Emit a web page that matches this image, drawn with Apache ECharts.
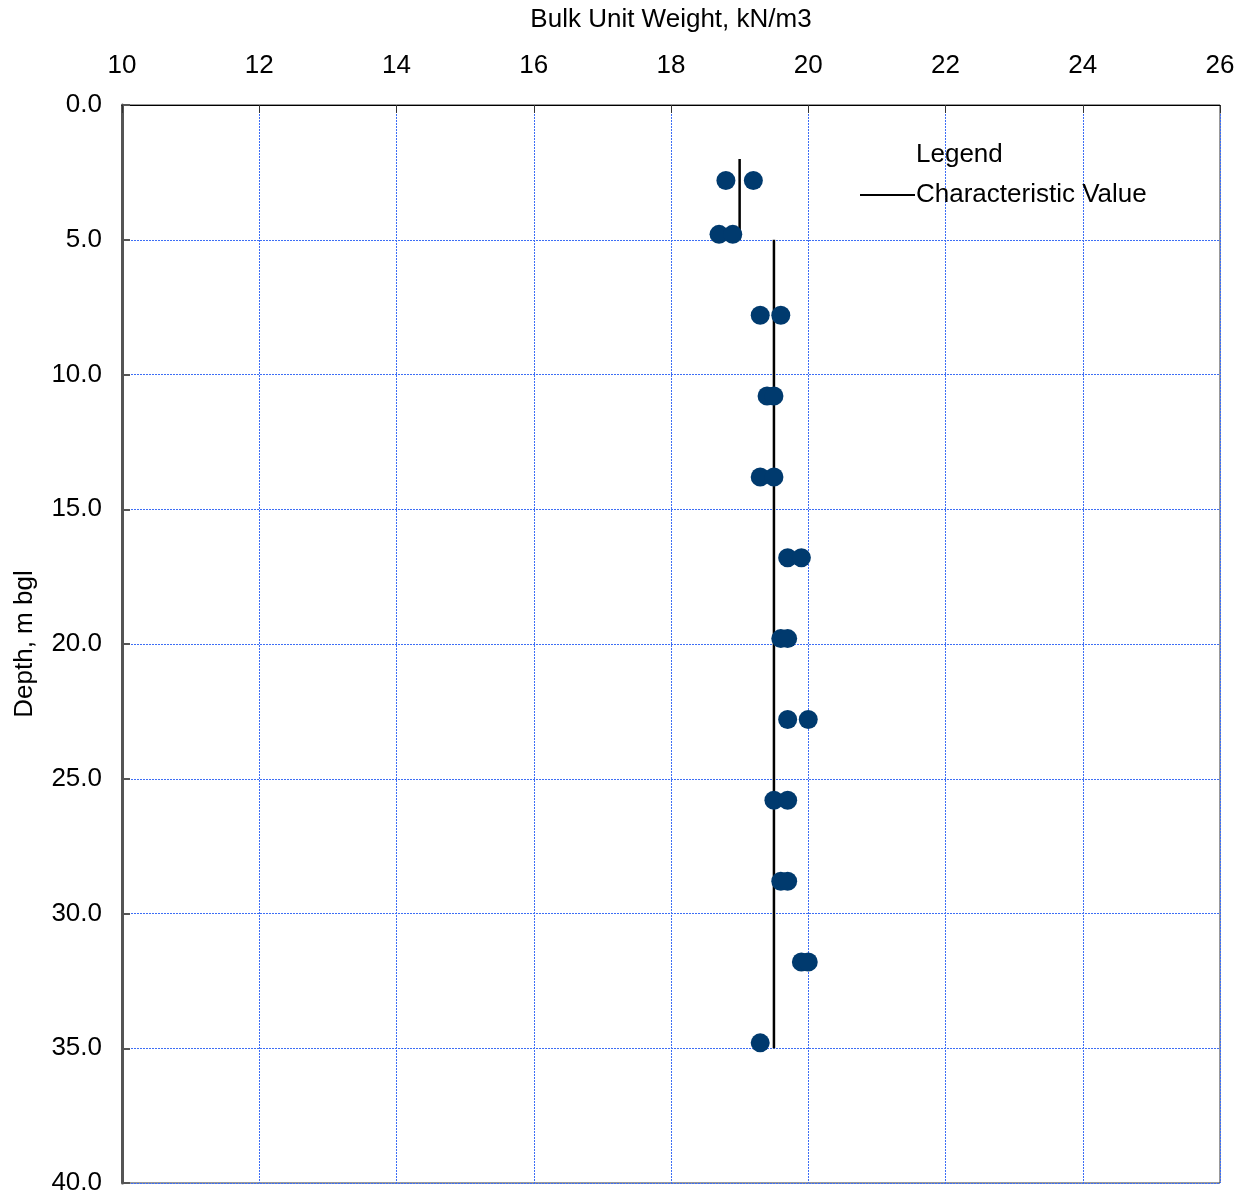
<!DOCTYPE html>
<html>
<head>
<meta charset="utf-8">
<script src="https://cdn.jsdelivr.net/npm/echarts@6/dist/echarts.min.js"></script>
<style>
html,body{margin:0;padding:0;background:#fff;}
#chart{width:1249px;height:1196px;}
</style>
</head>
<body>
<div id="chart"></div>
<script>
// Test points: [bulk unit weight kN/m3, depth m bgl]
const weights = [18.8, 19.2, 18.7, 18.9, 19.3, 19.6, 19.4, 19.5, 19.3, 19.5, 19.7, 19.9, 19.6, 19.7, 19.7, 20.0, 19.5, 19.7, 19.6, 19.7, 19.9, 20.0, 19.3];
const depths  = [2.8, 2.8, 4.8, 4.8, 7.8, 7.8, 10.8, 10.8, 13.8, 13.8, 16.8, 16.8, 19.8, 19.8, 22.8, 22.8, 25.8, 25.8, 28.8, 28.8, 31.8, 31.8, 34.8];
// Characteristic value segments
const charUpperX = [19.0, 19.0];
const charUpperY = [2.0, 5.0];
const charLowerX = [19.5, 19.5];
const charLowerY = [5.0, 35.0];
const xTicks = [10, 12, 14, 16, 18, 20, 22, 24, 26];
const yTicks = [0, 5, 10, 15, 20, 25, 30, 35, 40];

const pts = weights.map((w, i) => [w, depths[i]]);
const upper = charUpperX.map((x, i) => [x, charUpperY[i]]);
const lower = charLowerX.map((x, i) => [x, charLowerY[i]]);

const font = '"Liberation Sans", Arial, sans-serif';
const FS = 26;
const gridLine = {show: true, lineStyle: {color: '#3d6ef5', type: [2, 1], width: 1}};

const chart = echarts.init(document.getElementById('chart'));
chart.setOption({
  animation: false,
  backgroundColor: '#fff',
  textStyle: {fontFamily: font},
  grid: {left: 122, right: 29, top: 105, bottom: 10, show: true, borderColor: '#333', borderWidth: 1, containLabel: false},
  xAxis: {
    type: 'value', position: 'top', min: xTicks[0], max: xTicks[xTicks.length - 1], interval: 2,
    name: 'Bulk Unit Weight, kN/m3', nameLocation: 'middle', nameGap: 72,
    nameTextStyle: {fontSize: FS, color: '#000', fontFamily: font},
    axisLine: {show: true, lineStyle: {color: '#000', width: 1}},
    axisTick: {show: true, inside: true, length: 8, lineStyle: {color: '#333'}},
    axisLabel: {fontSize: FS, color: '#000', margin: 26, fontFamily: font},
    splitLine: gridLine
  },
  yAxis: {
    type: 'value', inverse: true, min: yTicks[0], max: yTicks[yTicks.length - 1], interval: 5,
    name: 'Depth, m bgl', nameLocation: 'middle', nameGap: 84, nameRotate: 90,
    nameTextStyle: {fontSize: FS, color: '#000', fontFamily: font},
    axisLine: {show: true, lineStyle: {color: '#555', width: 3}},
    axisTick: {show: true, inside: true, length: 8, lineStyle: {color: '#555', width: 2}},
    axisLabel: {fontSize: FS, color: '#000', margin: 20, fontFamily: font, formatter: v => v.toFixed(1)},
    splitLine: gridLine
  },
  legend: {
    data: [{name: 'Characteristic Value'}],
    left: 855, top: 177, itemWidth: 55, itemHeight: 2, itemGap: 10,
    textStyle: {fontSize: FS, color: '#000', fontFamily: font, padding: [0, 0, 0, -4]},
    icon: 'rect'
  },
  graphic: [{
    type: 'text', left: 916, top: 142,
    style: {text: 'Legend', fontSize: FS, fill: '#000', fontFamily: font}
  }],
  series: [
    {name: 'Characteristic Value', type: 'line', data: upper, symbol: 'none', lineStyle: {color: '#000', width: 2.5}, itemStyle: {color: '#000'}, z: 3},
    {name: 'Characteristic Value', type: 'line', data: lower, symbol: 'none', lineStyle: {color: '#000', width: 2.5}, itemStyle: {color: '#000'}, z: 3},
    {name: 'Tests', type: 'scatter', data: pts, symbol: 'circle', symbolSize: 19, itemStyle: {color: '#003a6e', opacity: 1}, z: 4}
  ]
});
</script>
</body>
</html>
